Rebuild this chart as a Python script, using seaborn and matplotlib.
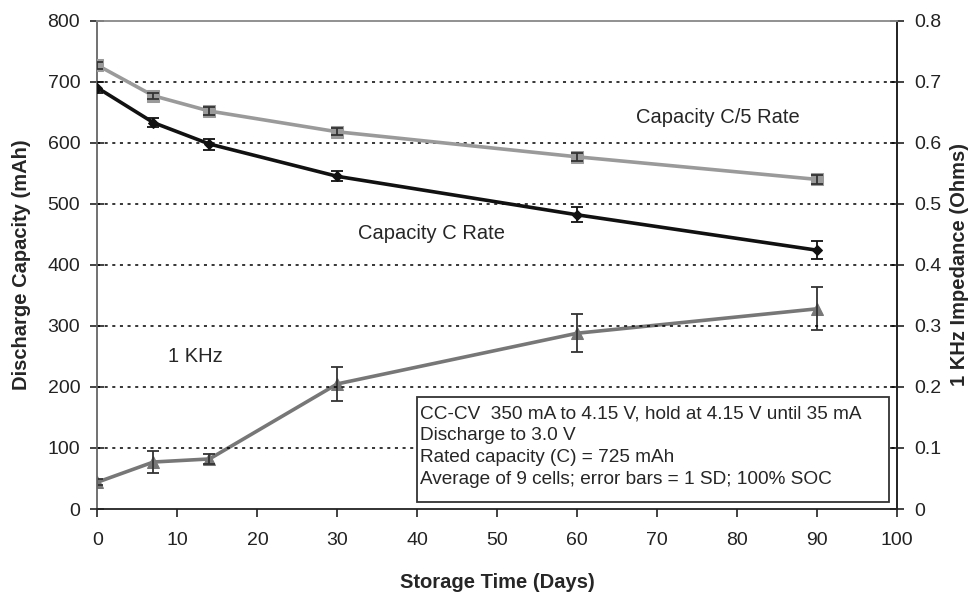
import matplotlib
matplotlib.use("Agg")
import matplotlib.pyplot as plt
from matplotlib.patches import Rectangle
import seaborn as sns
import pandas as pd

sns.set_theme(style="white")
plt.rcParams["font.family"] = ["Liberation Sans", "DejaVu Sans"]

# Storage test results (means and 1 SD)
days = [0, 7, 14, 30, 60, 90]
cap_c5 = [727, 677, 652, 618, 577, 540]
cap_c5_sd = [6, 5, 6, 6, 7, 7]
cap_c = [690, 633, 598, 545, 482, 424]
cap_c_sd = [9, 7, 9, 8, 12, 15]
imp_1k = [0.044, 0.077, 0.082, 0.205, 0.288, 0.328]
imp_1k_sd = [0.005, 0.018, 0.008, 0.028, 0.031, 0.035]

left_ticks = [0, 100, 200, 300, 400, 500, 600, 700, 800]
right_ticks = [0, 0.1, 0.2, 0.3, 0.4, 0.5, 0.6, 0.7, 0.8]
x_ticks = [0, 10, 20, 30, 40, 50, 60, 70, 80, 90, 100]

notes = [
    "CC-CV  350 mA to 4.15 V, hold at 4.15 V until 35 mA",
    "Discharge to 3.0 V",
    "Rated capacity (C) = 725 mAh",
    "Average of 9 cells; error bars = 1 SD; 100% SOC",
]

df = pd.DataFrame({"days": days, "c5": cap_c5, "c": cap_c, "imp": imp_1k})

fig = plt.figure(figsize=(9.71, 5.92), dpi=100)
ax = fig.add_axes([0.1004, 0.1402, 0.8234, 0.8248])
ax2 = ax.twinx()

col_c5 = "#9a9a9a"
col_c = "#111111"
col_imp = "#777777"

# horizontal dotted grid
for v in left_ticks[1:-1]:
    ax.axhline(v, color="black", linestyle=(0, (2, 3)), linewidth=1.1, zorder=1)

sns.lineplot(data=df, x="days", y="c5", ax=ax, color=col_c5, linewidth=2.6,
             marker="s", markersize=8.5, markeredgecolor=col_c5, zorder=4)
sns.lineplot(data=df, x="days", y="c", ax=ax, color=col_c, linewidth=2.6,
             marker="D", markersize=5, markeredgecolor=col_c, zorder=4)
ax.errorbar(days, cap_c5, yerr=cap_c5_sd, fmt="none", ecolor="#333333",
            elinewidth=1.3, capsize=4, capthick=1.3, zorder=5)
ax.errorbar(days, cap_c, yerr=cap_c_sd, fmt="none", ecolor="#111111",
            elinewidth=1.3, capsize=4, capthick=1.3, zorder=5)

sns.lineplot(data=df, x="days", y="imp", ax=ax2, color=col_imp, linewidth=2.6,
             marker="^", markersize=8.5, markeredgecolor=col_imp, zorder=4)
ax2.errorbar(days, imp_1k, yerr=imp_1k_sd, fmt="none", ecolor="#333333",
             elinewidth=1.3, capsize=4, capthick=1.3, zorder=5)

ax.set_xlim(0, 100)
ax.set_ylim(0, 800)
ax2.set_ylim(0, 0.8)
ax.set_xticks(x_ticks)
ax.set_yticks(left_ticks)
ax2.set_yticks(right_ticks)
ax2.set_yticklabels(["0" if t == 0 else f"{t:.1f}" for t in right_ticks])

ax.set_xlabel("Storage Time (Days)", fontsize=14.5, fontweight="bold")
ax.xaxis.set_label_coords(0.5, -0.131)
ax.set_ylabel("Discharge Capacity (mAh)", fontsize=14.5, fontweight="bold", labelpad=12)
ax2.set_ylabel("1 KHz Impedance (Ohms)", fontsize=14.5, fontweight="bold", labelpad=6)

for a in (ax, ax2):
    for s in a.spines.values():
        s.set_linewidth(1.3)
ax.spines["left"].set_color("#666666")
ax.spines["top"].set_color("#888888")
ax.spines["bottom"].set_color("#222222")
ax2.spines["right"].set_color("#222222")
ax2.spines["left"].set_visible(False)
ax2.spines["top"].set_visible(False)
ax2.spines["bottom"].set_visible(False)

ax.tick_params(axis="y", direction="inout", length=10, width=1.2, labelsize=14,
               left=True, colors="#222222", pad=7.5)
ax.tick_params(axis="x", direction="out", length=6, width=1.2, labelsize=14,
               bottom=True, colors="#222222", pad=10.5)
ax2.tick_params(axis="y", direction="inout", length=10, width=1.2, labelsize=14,
                right=True, colors="#222222", pad=7.5)

ax.text(77.6, 641, "Capacity C/5 Rate", fontsize=14.5, ha="center", va="center", zorder=6)
ax.text(41.8, 452, "Capacity C Rate", fontsize=14.5, ha="center", va="center", zorder=6)
ax.text(12.3, 250, "1 KHz", fontsize=14.5, ha="center", va="center", zorder=6)

# test-condition notes in a framed box
ax.add_patch(Rectangle((39.96, 11.5), 59.1, 172, facecolor="white",
                       edgecolor="#333333", linewidth=1.3, zorder=6))
ax.text(40.4, 169.5, "\n".join(notes), fontsize=13.7, ha="left", va="top",
        linespacing=1.36, zorder=7)

ax.set_zorder(ax2.get_zorder() + 1)
ax.patch.set_visible(False)

fig.savefig("out.png", dpi=100, facecolor="white")
